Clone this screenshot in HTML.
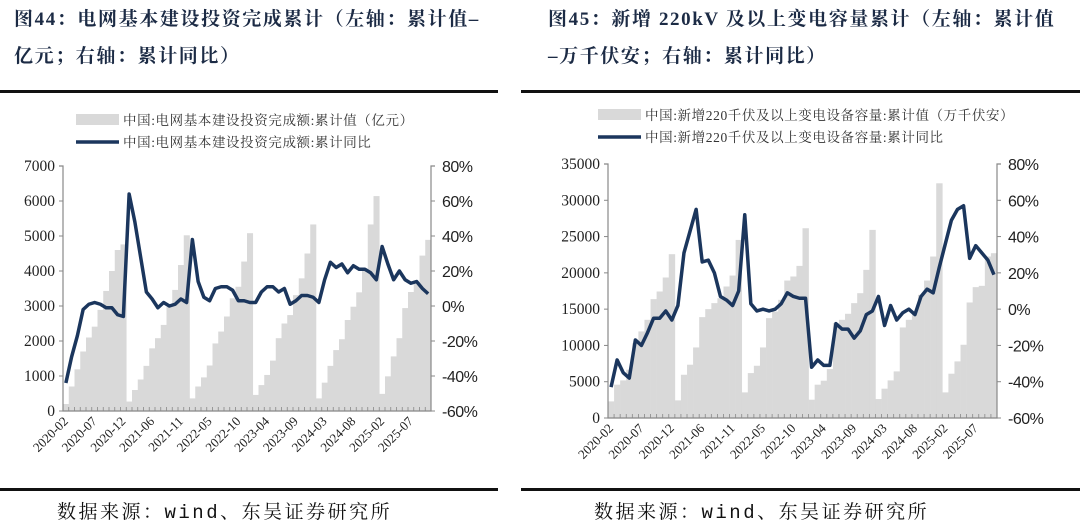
<!DOCTYPE html>
<html><head><meta charset="utf-8">
<style>
body{margin:0;background:#fff;width:1080px;height:528px;overflow:hidden;position:relative;font-family:"Liberation Serif","Noto Serif CJK SC",serif}
.t{position:absolute;font-weight:bold;font-size:19px;color:#1c2b45;line-height:37px;font-family:"Liberation Serif","Noto Serif CJK SC",serif;letter-spacing:1.6px}
.rule{position:absolute;height:3px;background:#111}
.src{position:absolute;font-size:19px;color:#111;font-family:"Liberation Mono","Noto Serif CJK SC",serif;letter-spacing:2.5px}
svg{position:absolute;left:0;top:0}
</style></head><body>
<div class="t" style="left:14px;top:1px;width:500px">图44：电网基本建设投资完成累计（左轴：累计值–<br>亿元；右轴：累计同比）</div>
<div class="t" style="left:548px;top:1px;width:532px">图45：新增 220kV 及以上变电容量累计（左轴：累计值<br>–万千伏安；右轴：累计同比）</div>
<div class="rule" style="left:0;top:90px;width:498px"></div>
<div class="rule" style="left:521px;top:90px;width:559px"></div>
<div class="rule" style="left:0;top:488px;width:498px"></div>
<div class="rule" style="left:521px;top:488px;width:559px"></div>
<div class="src" style="left:57px;top:497px">数据来源：wind、东吴证券研究所</div>
<div class="src" style="left:594px;top:497px">数据来源：wind、东吴证券研究所</div>
<svg id="chart" width="1080" height="528"></svg>
<script>
const tickLabels = ["2020-02","2020-07","2020-12","2021-06","2021-11","2022-05","2022-10","2023-04","2023-09","2024-03","2024-08","2025-02","2025-07"];
const leftBars = [200,700,1190,1700,2100,2410,2890,3430,4000,4600,4760,
 270,600,900,1290,1790,2080,2460,2980,3460,4170,5020,
 360,700,960,1300,1930,2270,2700,3220,3550,4270,5080,
 460,740,1030,1440,2080,2500,2740,3310,3790,4500,5330,
 360,810,1290,1740,2050,2600,2980,3390,4000,5330,6140,
 490,990,1560,2080,2940,3400,3650,4440,4890];
const leftLine = [-44,-29,-17,-2,1,2,1,-1,-1,-5,-6,
 64,48,28,8,4,-1,2,0,1,4,2,
 38,14,5,3,10,11,11,9,3,3,2,
 2,8,11,11,8,10,1,3,6,6,5,
 2,15,25,22,24,19,23,21,21,19,15,
 34,24,15,20,15,13,14,10,7];
const rightBars = [2290,4590,5180,6650,10320,11930,13530,16380,17430,19360,22570,
 2430,5960,7340,9720,13900,15000,15830,16510,18120,19630,24540,
 3530,6190,7200,9720,13760,14680,16280,18940,19500,20960,26150,
 2520,4590,5140,6740,13070,13530,14360,15830,17200,20410,25920,
 2610,4040,5180,6420,12480,13530,14680,16970,18940,22250,32340,
 3530,6100,7800,10090,15920,18030,18210,22250,22710];
const rightLine = [-43,-28,-35,-38,-17,-20,-13,-5,-5,-1,-6,
 2,31,43,55,26,27,20,7,5,2,10,
 52,3,-1,0,-1,0,3,9,7,6,6,
 -32,-28,-31,-31,-8,-11,-11,-16,-12,-3,-1,
 7,-9,2,-6,-2,0,-3,7,11,9,23,
 36,49,55,57,28,35,31,27,19];
const leftTicks=[0,1000,2000,3000,4000,5000,6000,7000];
const rightTicks=[0,5000,10000,15000,20000,25000,30000,35000];
const pctTicks=[-60,-40,-20,0,20,40,60,80];

const NS="http://www.w3.org/2000/svg";
const svg=document.getElementById('chart');
function mk(tag,attrs,parent){const e=document.createElementNS(NS,tag);for(const k in attrs)e.setAttribute(k,attrs[k]);(parent||svg).appendChild(e);return e;}

function drawChart(cfg){
  const g=mk('g',{});
  
  
  const n=cfg.bars.length, step=(cfg.x1-cfg.x0)/n;
  const yL=v=>cfg.yB-(v/cfg.lmax)*(cfg.yB-cfg.yT);
  const yR=v=>cfg.yB-((v+60)/140)*(cfg.yB-cfg.yT);
  const xC=i=>cfg.x0+step*(i+0.5);
  const lr=mk('rect',{x:cfg.lgx,y:cfg.lgy-6,width:43,height:11,fill:'#d9d9d9'},g);
  
  
  const lt=mk('text',{x:cfg.lgx+47,y:cfg.lgy+5,'font-size':13.5,fill:'#333','font-family':'"Liberation Serif","Noto Serif CJK SC",serif','letter-spacing':'0.6'},g);
  lt.textContent=cfg.leg1;
  
  
  const ll=mk('line',{x1:cfg.lgx,x2:cfg.lgx+43,y1:cfg.lgy+22,y2:cfg.lgy+22,stroke:'#1b365d','stroke-width':3.5},g);
  
  
  const lt2=mk('text',{x:cfg.lgx+47,y:cfg.lgy+27,'font-size':13.5,fill:'#333','font-family':'"Liberation Serif","Noto Serif CJK SC",serif','letter-spacing':'0.6'},g);
  lt2.textContent=cfg.leg2;
  
  
  cfg.bars.forEach((v,i)=>{
    const r=mk('rect',{x:cfg.x0+step*i,y:yL(v),width:step+0.3,height:cfg.yB-yL(v),fill:'#d9d9d9'},g);
    
    
  });
  const ax=mk('path',{d:`M${cfg.x0-4},${cfg.yT}H${cfg.x0}V${cfg.yB}H${cfg.x1}V${cfg.yT}H${cfg.x1+4}`,stroke:'#888',fill:'none','stroke-width':1.2},g);
  
  
  cfg.lticks.forEach(v=>{
    const y=yL(v);
    mk('line',{x1:cfg.x0-4,x2:cfg.x0,y1:y,y2:y,stroke:'#888'},g);
    const t=mk('text',{x:cfg.x0-8,y:y+5,'text-anchor':'end','font-size':15.5,fill:'#222','font-family':'"Liberation Serif",serif'},g);
    t.textContent=v;
    
    
  });
  pctTicks.forEach(v=>{
    const y=yR(v);
    mk('line',{x1:cfg.x1,x2:cfg.x1+4,y1:y,y2:y,stroke:'#888'},g);
    const t=mk('text',{x:cfg.x1+11,y:y+6,'font-size':16,fill:'#222','font-family':'"Liberation Sans",sans-serif','letter-spacing':'-0.5'},g);
    t.textContent=v+'%';
    
    
  });
  for(let i=0;i<=n;i++){const x=cfg.x0+step*i;mk('line',{x1:x,x2:x,y1:cfg.yB,y2:cfg.yB-4,stroke:'#888','stroke-width':0.8},g);}
  tickLabels.forEach((s,k)=>{
    const x=xC(k*5)+3, y=cfg.yB+11;
    const t=mk('text',{x:x,y:y,'text-anchor':'end','font-size':13,fill:'#222','font-family':'"Liberation Serif",serif',transform:`rotate(-45 ${x} ${y})`},g);
    t.textContent=s;
    
    
  });
  const p=mk('polyline',{points:cfg.line.map((v,i)=>xC(i)+','+yR(v)).join(' '),fill:'none',stroke:'#1b365d','stroke-width':3.5,'stroke-linejoin':'round'},g);
  
  
}
drawChart({name:'left-chart',bars:leftBars,line:leftLine,x0:63,x1:431,yT:166,yB:411,lmax:7000,lticks:leftTicks,lgx:76,lgy:120,
 leg1:'中国:电网基本建设投资完成额:累计值（亿元）',leg2:'中国:电网基本建设投资完成额:累计同比'});
drawChart({name:'right-chart',bars:rightBars,line:rightLine,x0:608,x1:997,yT:164,yB:418,lmax:35000,lticks:rightTicks,lgx:598,lgy:115,
 leg1:'中国:新增220千伏及以上变电设备容量:累计值（万千伏安）',leg2:'中国:新增220千伏及以上变电设备容量:累计同比'});
</script>
</body></html>
